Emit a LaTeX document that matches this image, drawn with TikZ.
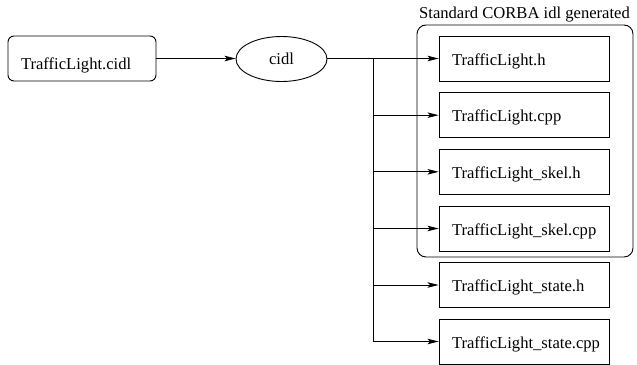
\documentclass[tikz,border=0pt]{standalone}
\usepackage{fontspec}
\setmainfont{Liberation Serif}
\usetikzlibrary{arrows.meta,shapes.geometric}
\begin{document}
\begin{tikzpicture}[x=1pt,y=-1pt,line width=0.9pt,
  font=\fontsize{16.6}{20}\selectfont,
  arr/.style={-{Stealth[length=11pt,width=5.5pt,inset=2.5pt]}},
  filebox/.style={draw,rectangle,minimum width=170pt,minimum height=45pt,
    text width=144pt,align=left,inner xsep=13pt,inner ysep=0pt,text height=13pt,text depth=0pt},
  srcbox/.style={draw,rectangle,rounded corners=6pt,minimum width=148pt,minimum height=45pt,
    text width=122pt,align=left,inner xsep=13pt,inner ysep=0pt,text height=21pt,text depth=0pt},
  tool/.style={draw,ellipse,minimum width=91pt,minimum height=45pt,inner sep=0pt},
  groupbox/.style={draw,rectangle,rounded corners=9pt,minimum width=216pt,minimum height=232pt}]
\useasboundingbox (0,0) rectangle (637,364);
\node[groupbox] (grp) at (525,141) {};
\node[anchor=base,inner sep=0pt] (grplabel) at (524.5,18) {Standard CORBA idl generated};
\node[srcbox] (src) at (82,58.5) {TrafficLight.cidl};
\node[tool] (cidl) at (281.5,59) {cidl};
\node[filebox] (f1) at (524,58.5) {TrafficLight.h};
\node[filebox] (f2) at (524,115.2) {TrafficLight.cpp};
\node[filebox] (f3) at (524,171.8) {TrafficLight\_skel.h};
\node[filebox] (f4) at (524,228.5) {TrafficLight\_skel.cpp};
\node[filebox] (f5) at (524,285) {TrafficLight\_state.h};
\node[filebox] (f6) at (524,341.5) {TrafficLight\_state.cpp};
\coordinate (j) at (373,58.5);
\coordinate (jend) at (373,341.5);
\draw[arr] (src.east) -- (cidl.west |- src.east);
\draw[arr] (cidl.east |- f1.west) -- (f1.west);
\draw (j) -- (jend);
\draw[arr] (j) |- (f2.west);
\draw[arr] (j) |- (f3.west);
\draw[arr] (j) |- (f4.west);
\draw[arr] (j) |- (f5.west);
\draw[arr] (j) |- (f6.west);
\end{tikzpicture}
\end{document}
